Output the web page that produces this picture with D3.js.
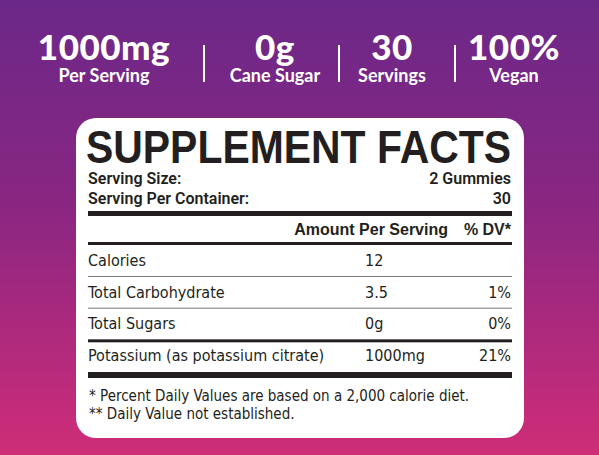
<!DOCTYPE html>
<html><head><meta charset="utf-8">
<script src="https://cdn.jsdelivr.net/npm/d3@7"></script>
<style>body{margin:0;overflow:hidden}svg{display:block}</style>
</head><body><svg id="c" width="599" height="455"></svg>
<script>
// header badges
var badgeBig = ["1000mg", "0g", "30", "100%"];
var badgeSmall = ["Per Serving", "Cane Sugar", "Servings", "Vegan"];
var badgeX = [104, 275, 392, 514];
var sepX = [204, 339, 455];

// table
var nutrients = ["Calories", "Total Carbohydrate", "Total Sugars", "Potassium (as potassium citrate)"];
var amounts = ["12", "3.5", "0g", "1000mg"];
var dv = ["", "1%", "0%", "21%"];
var rowLine = ["thin", "thin", "thick", "bar"];
var footnotes = ["* Percent Daily Values are based on a 2,000 calorie diet.", "** Daily Value not established."];

var svg = d3.select("#c");
var defs = svg.append("defs");
var g = defs.append("linearGradient").attr("id", "bg").attr("x1", 0).attr("y1", 0).attr("x2", 0).attr("y2", 1);
g.append("stop").attr("offset", "0%").attr("stop-color", "#6b2888");
g.append("stop").attr("offset", "45%").attr("stop-color", "#8a2682");
g.append("stop").attr("offset", "100%").attr("stop-color", "#cf2d78");
svg.append("rect").attr("width", 599).attr("height", 455).attr("fill", "url(#bg)");

var hf = "Lato, 'Open Sans', sans-serif";
svg.selectAll(".big").data(badgeBig).enter().append("text")
  .attr("x", function (d, i) { return badgeX[i]; }).attr("y", 60)
  .attr("text-anchor", "middle").attr("fill", "#fff")
  .style("font", "900 35px " + hf).style("letter-spacing", "0.5px").text(function (d) { return d; });
svg.selectAll(".small").data(badgeSmall).enter().append("text")
  .attr("x", function (d, i) { return badgeX[i]; }).attr("y", 82)
  .attr("text-anchor", "middle").attr("fill", "#fff")
  .style("font", "700 18px " + hf).text(function (d) { return d; });
svg.selectAll(".sep").data(sepX).enter().append("line")
  .attr("x1", function (d) { return d; }).attr("x2", function (d) { return d; })
  .attr("y1", 45).attr("y2", 82).attr("stroke", "#fff").attr("stroke-width", 2);

// panel
svg.append("rect").attr("x", 76).attr("y", 118).attr("width", 448).attr("height", 320)
  .attr("rx", 20).attr("fill", "#fff");

var ink = "#231f20";
var L = 88, R = 511;
svg.append("text").attr("x", L - 2).attr("y", 163).attr("textLength", R - L + 2)
  .attr("lengthAdjust", "spacingAndGlyphs").attr("fill", ink)
  .style("font", "900 47px 'Liberation Sans', Arial, sans-serif").text("SUPPLEMENT FACTS");

var f2 = "600 16px Roboto, sans-serif";
function txt(x, y, s, anchor, font) {
  svg.append("text").attr("x", x).attr("y", y).attr("text-anchor", anchor || "start")
    .attr("fill", ink).style("font", font || f2).text(s);
}
txt(L, 184, "Serving Size:");
txt(R, 184, "2 Gummies", "end");
txt(L, 204, "Serving Per Container:");
txt(R, 204, "30", "end");
svg.append("rect").attr("x", L).attr("y", 211).attr("width", R - L + 1).attr("height", 5).attr("fill", ink);
txt(448, 235, "Amount Per Serving", "end", "600 16px 'Liberation Sans', Arial, sans-serif");
txt(R, 235, "% DV*", "end", "600 16px 'Liberation Sans', Arial, sans-serif");
svg.append("rect").attr("x", L).attr("y", 242).attr("width", R - L + 1).attr("height", 3).attr("fill", ink);

var y = d3.scalePoint().domain(nutrients).range([266, 361]);
var rf = "400 16px 'DejaVu Sans Condensed', Roboto, sans-serif";
nutrients.forEach(function (n, i) {
  txt(L, y(n), n, "start", rf);
  txt(365, y(n), amounts[i], "start", rf);
  txt(R, y(n), dv[i], "end", rf);
  var ly = y(n) + 10;
  var h = rowLine[i] == "thin" ? 1 : rowLine[i] == "thick" ? 3 : 6;
  if (rowLine[i] == "bar") ly = y(n) + 11;
  svg.append("rect").attr("x", L).attr("y", ly).attr("width", R - L + 1).attr("height", h)
    .attr("fill", rowLine[i] == "thin" ? "#777" : ink);
});

footnotes.forEach(function (s, i) {
  txt(89, 401 + i * 18, s, "start", "400 15px 'DejaVu Sans Condensed', Roboto, sans-serif");
});
</script></body></html>
